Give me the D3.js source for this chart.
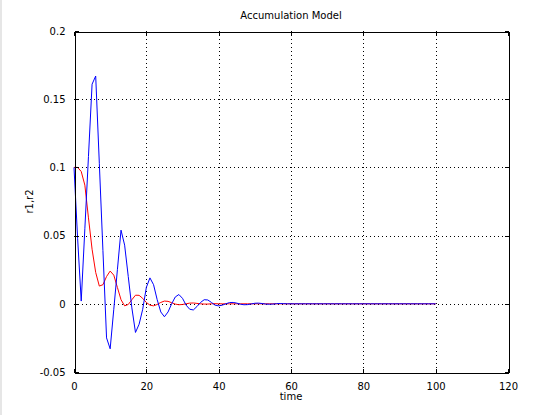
<!DOCTYPE html>
<html><head><meta charset="utf-8">
<script src="https://cdn.jsdelivr.net/npm/d3@7"></script>
<style>
html,body{margin:0;padding:0;background:#fff;}
text{font-family:"DejaVu Sans",sans-serif;font-size:10px;fill:#000;}
</style></head>
<body>
<svg id="c" width="560" height="415"></svg>
<script>
const title = "Accumulation Model";
const xLabel = "time";
const yLabel = "r1,r2";
const xTicks = [0, 20, 40, 60, 80, 100, 120];
const yTicks = [-0.05, 0, 0.05, 0.1, 0.15, 0.2];
const yTickLabels = ["-0.05", "0", "0.05", "0.1", "0.15", "0.2"];
const xDomain = [0, 120];
const yDomain = [-0.05, 0.2];

// time samples 0..58, then zero to 100
const r1Head = [0.1, 0.1, 0.097, 0.087, 0.063, 0.040, 0.023, 0.013, 0.014, 0.020,
  0.024, 0.021, 0.012, 0.003, -0.0015, -0.0005, 0.003, 0.0063, 0.0062, 0.004,
  0.001, -0.001, -0.0015, -0.0005, 0.001, 0.002, 0.0018, 0.0008, -0.0002, -0.0007,
  -0.0005, 0, 0.0005, 0.0006, 0.0003, 0, -0.0002, -0.0002, 0, 0.0001];
const r2Head = [0.1, 0.048, 0.002, 0.055, 0.108, 0.161, 0.167, 0.103, 0.039, -0.025,
  -0.033, -0.004, 0.025, 0.054, 0.043, 0.020, -0.003, -0.021, -0.015, -0.004,
  0.012, 0.019, 0.014, 0.003, -0.006, -0.0095, -0.006, 0.0, 0.005, 0.0068,
  0.004, -0.001, -0.004, -0.0045, -0.002, 0.001, 0.003, 0.0028, 0.001, -0.001,
  -0.0015, -0.001, 0.0, 0.0009, 0.001, 0.0005, -0.0003, -0.0007, -0.0006, -0.0001,
  0.0004, 0.0005, 0.0002, -0.0002, -0.0003, -0.0002, 0.0001, 0.0002, 0.0001];
const time = d3.range(0, 101);
const r1 = time.map(t => t < r1Head.length ? r1Head[t] : 0);
const r2 = time.map(t => t < r2Head.length ? r2Head[t] : 0);

const svg = d3.select("#c");
const m = {l: 74, r: 508, t: 31, b: 372};
const x = d3.scaleLinear().domain(xDomain).range([m.l, m.r]);
const y = d3.scaleLinear().domain(yDomain).range([m.b, m.t]);

svg.append("rect").attr("x", 0).attr("y", 0).attr("width", 2).attr("height", 415).attr("fill", "#e6e6e6");

// grid
const g = svg.append("g").attr("stroke", "#000").attr("stroke-width", 1).attr("stroke-dasharray", "1,3").attr("shape-rendering", "crispEdges");
xTicks.filter(v => v > xDomain[0] && v < xDomain[1]).forEach(v => {
  g.append("line").attr("x1", Math.round(x(v)) + 0.5).attr("x2", Math.round(x(v)) + 0.5).attr("y1", m.t).attr("y2", m.b);
});
yTicks.filter(v => v > yDomain[0] && v < yDomain[1]).forEach(v => {
  g.append("line").attr("x1", m.l).attr("x2", m.r).attr("y1", Math.round(y(v)) + 0.5).attr("y2", Math.round(y(v)) + 0.5);
});

// lines
const line = d3.line().x((d, i) => x(time[i])).y(d => y(d));
svg.append("path").datum(r1).attr("d", line).attr("fill", "none").attr("stroke", "#ff0000").attr("stroke-width", 1);
svg.append("path").datum(r2).attr("d", line).attr("fill", "none").attr("stroke", "#0000ff").attr("stroke-width", 1);

// axes with inward ticks
const fmtY = d => yTickLabels[yTicks.indexOf(d)];
const axB = svg.append("g").attr("transform", `translate(0,${m.b + 0.5})`)
  .call(d3.axisBottom(x).tickValues(xTicks).tickSizeInner(-4).tickSizeOuter(0).tickPadding(10));
const axT = svg.append("g").attr("transform", `translate(0,${m.t + 0.5})`)
  .call(d3.axisTop(x).tickValues(xTicks).tickSizeInner(-4).tickSizeOuter(0).tickFormat(""));
const axL = svg.append("g").attr("transform", `translate(${m.l + 0.5},0)`)
  .call(d3.axisLeft(y).tickValues(yTicks).tickSizeInner(-4).tickSizeOuter(0).tickPadding(9).tickFormat(fmtY));
const axR = svg.append("g").attr("transform", `translate(${m.r + 0.5},0)`)
  .call(d3.axisRight(y).tickValues(yTicks).tickSizeInner(-4).tickSizeOuter(0).tickFormat(""));
[axB, axT, axL, axR].forEach(a => {
  a.selectAll("path,line").attr("stroke", "#000").attr("shape-rendering", "crispEdges");
  a.selectAll("text").style("font-family", "'DejaVu Sans',sans-serif").style("font-size", "10px").attr("fill", "#000");
});

svg.append("text").attr("x", (m.l + m.r) / 2).attr("y", 19).attr("text-anchor", "middle").text(title);
svg.append("text").attr("x", (m.l + m.r) / 2).attr("y", 400).attr("text-anchor", "middle").text(xLabel);
svg.append("text").attr("transform", `translate(33,${(m.t + m.b) / 2}) rotate(-90)`).attr("text-anchor", "middle").text(yLabel);
</script>
</body></html>
